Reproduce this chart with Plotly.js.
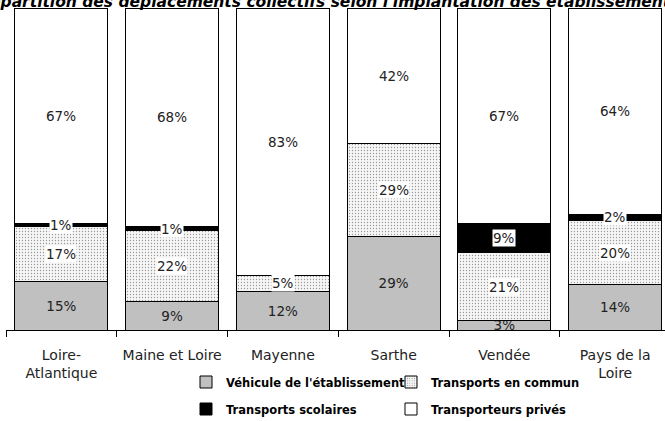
<!DOCTYPE html>
<html><head><meta charset="utf-8">
<script src="https://cdn.plot.ly/plotly-3.0.1.min.js"></script>
<style>html,body{margin:0;padding:0;background:#fff}</style>
</head><body><div id="chart" style="width:665px;height:421px"></div>
<script>
const categories = ["Loire-<br>Atlantique", "Maine et Loire", "Mayenne", "Sarthe", "Vendée", "Pays de la<br>Loire"];
const vehicule = [15, 9, 12, 29, 3, 14];
const commun = [17, 22, 5, 29, 21, 20];
const scolaires = [1, 1, 0, 0, 9, 2];
const prives = [67, 68, 83, 42, 67, 64];
const seriesNames = ["Véhicule de l'établissement", "Transports en commun", "Transports scolaires", "Transporteurs privés"];
const chartTitle = "Répartition des déplacements collectifs selon l'implantation des établissements";

const FONT = "DejaVu Sans, Verdana, sans-serif";
const pct = v => (v > 0 ? v + "%" : "");
const line = {color: "#000", width: 1};
const W = 0.84;

const traces = [
  {type: "bar", name: seriesNames[0], x: categories, y: vehicule, width: W,
   marker: {color: "#c0c0c0", line: line},
   text: vehicule.map(pct), textposition: "inside", insidetextanchor: "middle",
   textangle: 0, constraintext: "none", cliponaxis: true,
   textfont: {family: FONT, size: 13.5, color: "#222"},
   legend: "legend", hoverinfo: "skip"},
  {type: "bar", name: seriesNames[1], x: categories, y: commun, width: W,
   marker: {color: "#ffffff", line: line,
            pattern: {shape: ".", fgcolor: "#999999", bgcolor: "#f6f6f6", size: 3, solidity: 0.15}},
   legend: "legend", hoverinfo: "skip"},
  {type: "bar", name: seriesNames[2], x: categories, y: scolaires, width: W,
   marker: {color: "#000000", line: line},
   legend: "legend2", hoverinfo: "skip"},
  {type: "bar", name: seriesNames[3], x: categories, y: prives, width: W,
   marker: {color: "#ffffff", line: line},
   legend: "legend2", hoverinfo: "skip"}
];

// labels with white background for the upper series
const annotations = [];
const upper = [commun, scolaires, prives];
categories.forEach((c, i) => {
  let base = vehicule[i];
  upper.forEach(arr => {
    const v = arr[i];
    if (v > 0) {
      annotations.push({x: c, y: base + v / 2, xref: "x", yref: "y", text: pct(v),
        showarrow: false, bgcolor: "#ffffff", borderpad: 0,
        font: {family: FONT, size: 13.5, color: "#222"}});
    }
    base += v;
  });
});

const legendCommon = {orientation: "h", xref: "container", yref: "container",
  x: 186 / 665, xanchor: "left", yanchor: "middle",
  entrywidth: 160, entrywidthmode: "pixels", traceorder: "normal",
  bgcolor: "rgba(0,0,0,0)",
  font: {family: FONT, size: 11.5, color: "#000", weight: "bold"}};

const layout = {
  width: 665, height: 421,
  margin: {l: 6, r: 0, t: 8, b: 91},
  paper_bgcolor: "#ffffff", plot_bgcolor: "#ffffff",
  barmode: "stack", bargap: 0.16,
  title: {text: chartTitle, xref: "container", yref: "container",
          x: 0.495, xanchor: "center", y: 0.997, yanchor: "middle",
          font: {family: FONT, size: 15.5, weight: "bold", style: "italic", color: "#000"}},
  xaxis: {type: "category", range: [-0.5, 5.45], tickson: "boundaries",
          ticks: "outside", ticklen: 6, tickcolor: "#000", tickwidth: 1,
          ticklabelstandoff: 12,
          showline: true, linecolor: "#000", linewidth: 1,
          showgrid: false, zeroline: false, fixedrange: true,
          tickfont: {family: FONT, size: 14, color: "#222"}},
  yaxis: {range: [0, 100], visible: false, showgrid: false, zeroline: false, fixedrange: true},
  showlegend: true,
  legend: Object.assign({}, legendCommon, {y: 1 - 382 / 421}),
  legend2: Object.assign({}, legendCommon, {y: 1 - 409 / 421}),
  annotations: annotations
};

Plotly.newPlot("chart", traces, layout, {displayModeBar: false, staticPlot: true});
</script>
</body></html>
